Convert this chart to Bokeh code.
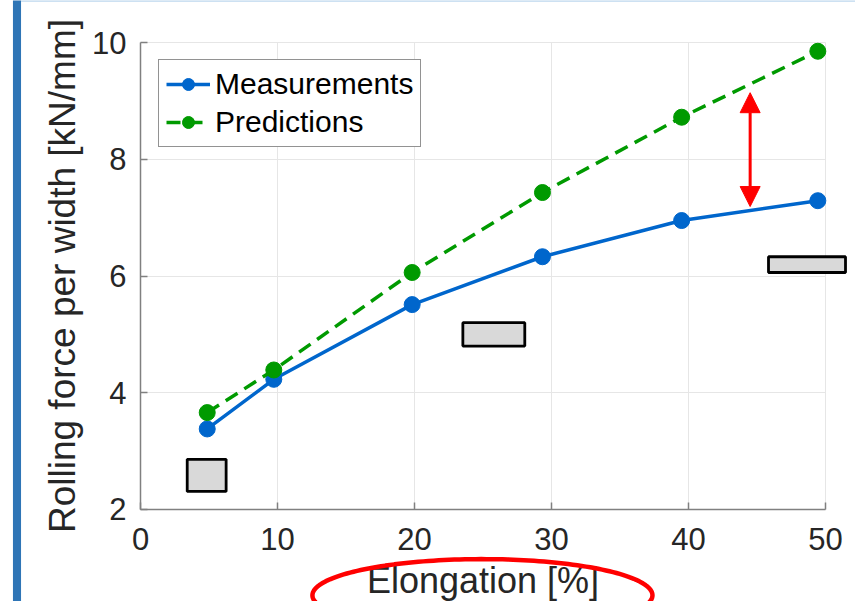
import numpy as np
from bokeh.plotting import figure
from bokeh.models import (BoxAnnotation, Arrow, NormalHead, PolyAnnotation,
                          FixedTicker, Legend, Range1d)
from bokeh.embed import file_html
from bokeh.resources import INLINE

# ---- data ----
elongation = [4.87, 9.73, 19.83, 29.34, 39.5, 49.44]
measurements = [3.38, 4.23, 5.51, 6.33, 6.95, 7.29]
predictions = [3.66, 4.39, 6.06, 7.43, 8.72, 9.85]
x_ticks = [0, 10, 20, 30, 40, 50]
y_ticks = [2, 4, 6, 8, 10]
x_axis_bounds = (0, 50)
y_axis_bounds = (2, 10)

# grey boxes (left, right, bottom, top) in data units
boxes_left = [3.41, 23.53, 45.84]
boxes_right = [6.25, 28.05, 51.46]
boxes_bottom = [2.31, 4.80, 6.06]
boxes_top = [2.86, 5.20, 6.33]

# red double arrow
arrow_x = 44.5
arrow_y0 = 7.19
arrow_y1 = 9.14

# red ellipse around x label (center x, center y, half width, half height)
ell_cx, ell_cy, ell_a, ell_b = 24.96, 0.53, 12.41, 0.62

FONT = "Liberation Sans"
TXT = "#262626"

W, H = 855, 601
# view extends beyond the axes so that the decorations outside the axes box can be drawn
p = figure(width=W, height=H, output_backend="svg", toolbar_location=None,
           x_range=Range1d(-10.2190, 52.1898), y_range=Range1d(0.42398, 10.71949),
           min_border=0, min_border_left=0, min_border_right=0,
           min_border_top=0, min_border_bottom=0)
p.outline_line_color = None
p.background_fill_color = "white"
p.border_fill_color = "white"

p.xaxis.fixed_location = y_axis_bounds[0]
p.yaxis.fixed_location = x_axis_bounds[0]
p.xaxis.bounds = x_axis_bounds
p.yaxis.bounds = y_axis_bounds

for ax in (p.xaxis[0], p.yaxis[0]):
    ax.axis_line_color = "#808080"
    ax.axis_line_width = 1.5
    ax.major_tick_line_color = "#808080"
    ax.major_tick_line_width = 1.5
    ax.major_tick_in = 7
    ax.major_tick_out = 0
    ax.minor_tick_line_color = None
    ax.major_label_text_font = FONT
    ax.major_label_text_font_size = "31px"
    ax.major_label_text_color = TXT
    ax.axis_label_text_font = FONT
    ax.axis_label_text_font_style = "normal"
    ax.axis_label_text_color = TXT

p.xaxis.ticker = FixedTicker(ticks=x_ticks)
p.yaxis.ticker = FixedTicker(ticks=y_ticks)
p.xaxis.major_label_standoff = 19
p.yaxis.major_label_standoff = 14

p.yaxis.axis_label = "Rolling force per width [kN/mm]"
p.yaxis.axis_label_text_font_size = "37px"
p.yaxis.axis_label_standoff = 6

p.xaxis.axis_label = "Elongation [%]"
p.xaxis.axis_label_text_font_size = "36px"
p.xaxis.axis_label_standoff = 6

p.grid.grid_line_color = "#e6e6e6"
p.grid.grid_line_width = 1
p.xgrid.bounds = x_axis_bounds
p.ygrid.bounds = y_axis_bounds
try:
    p.xgrid.cross_bounds = y_axis_bounds
    p.ygrid.cross_bounds = x_axis_bounds
except Exception:
    p.grid.visible = False
    p.segment(x0=x_ticks, x1=x_ticks, y0=[y_axis_bounds[0]] * len(x_ticks),
              y1=[y_axis_bounds[1]] * len(x_ticks), line_color="#e6e6e6", line_width=1)
    p.segment(x0=[x_axis_bounds[0]] * len(y_ticks), x1=[x_axis_bounds[1]] * len(y_ticks),
              y0=y_ticks, y1=y_ticks, line_color="#e6e6e6", line_width=1)

blue = "#0066cc"
green = "#009a00"

lm = p.line(elongation, measurements, line_color=blue, line_width=3.5)
sm = p.scatter(elongation, measurements, size=16, fill_color=blue, line_color=blue)
lp = p.line(elongation, predictions, line_color=green, line_width=3.5, line_dash="14 8")
sp = p.scatter(elongation, predictions, size=16, fill_color=green, line_color=green)

legend = Legend(items=[("Measurements", [lm, sm]), ("Predictions", [lp, sp])],
                location=(158, H - 147))
legend.margin = 0
legend.padding = 7
legend.spacing = 4
legend.label_text_font = FONT
legend.label_text_font_size = "30px"
legend.label_text_color = "black"
legend.label_height = 30
legend.glyph_height = 30
legend.glyph_width = 44
legend.label_standoff = 5
legend.border_line_color = "#262626"
legend.border_line_width = 1
legend.background_fill_alpha = 1
p.add_layout(legend)

for l, r, b, t in zip(boxes_left, boxes_right, boxes_bottom, boxes_top):
    p.add_layout(BoxAnnotation(left=l, right=r, bottom=b, top=t,
                               fill_color="#d9d9d9", fill_alpha=1,
                               line_color="black", line_width=2.8, line_alpha=1))

head = dict(size=20, fill_color="red", line_color="red", line_width=1)
p.add_layout(Arrow(start=NormalHead(**head), end=NormalHead(**head),
                   x_start=arrow_x, y_start=arrow_y0, x_end=arrow_x, y_end=arrow_y1,
                   line_color="red", line_width=3))

t = np.linspace(0, 2 * np.pi, 200)
p.add_layout(PolyAnnotation(xs=list(ell_cx + ell_a * np.cos(t)),
                            ys=list(ell_cy + ell_b * np.sin(t)),
                            fill_alpha=0, line_color="red", line_alpha=1, line_width=4.5))

# slide decorations: blue bar at the left edge, thin light-blue line at the top
p.add_layout(BoxAnnotation(left=-9.31, right=-8.72, bottom=-2, top=12,
                           fill_color="#2e75b6", fill_alpha=1, line_color=None))
p.add_layout(BoxAnnotation(left=-8.72, right=60, bottom=10.70, top=12,
                           fill_color="#bdd7ee", fill_alpha=1, line_color=None))

open("out.html", "w").write(file_html(p, INLINE))
